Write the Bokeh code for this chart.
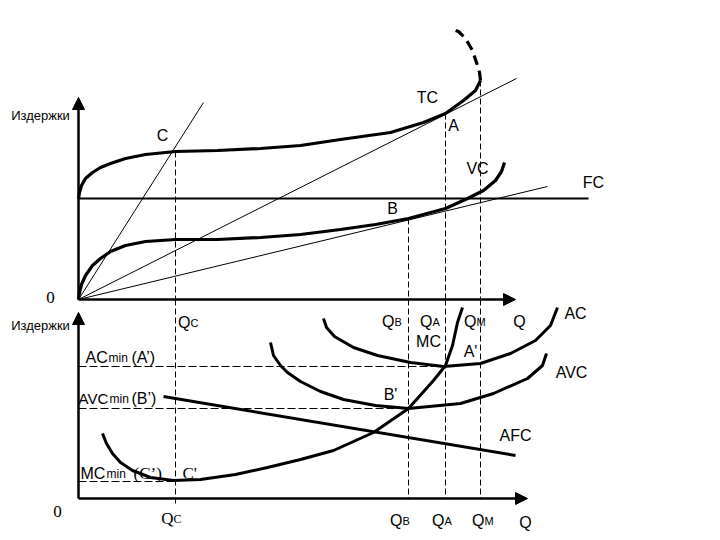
from bokeh.plotting import figure
from bokeh.models import Range1d, Arrow, NormalHead
from bokeh.embed import file_html
from bokeh.resources import INLINE
from bokeh.core.properties import value

# ---------------- data (Q = output, C = cost) ----------------
# upper panel: total costs
tc_q = [0, 0.1, 0.3, 0.7, 1.4, 2.2, 3.2, 4.7, 6.7, 9.7, 13.9, 18.2, 22.2, 26.2, 31.2, 34.5, 36.7, 38.5, 39.7, 40.2]
tc_c = [10.1, 10.7, 11.4, 12.1, 12.7, 13.2, 13.6, 14.1, 14.5, 14.8, 14.9, 15.1, 15.4, 16.0, 16.7, 17.7, 18.6, 19.9, 20.9, 21.9]
tc_ext_q = [40.2, 40.1, 39.8, 39.4, 38.7, 38.0, 37.2]
tc_ext_c = [21.9, 22.7, 23.7, 24.9, 26.1, 26.8, 27.1]
vc_q = [0, 0.1, 0.3, 0.7, 1.4, 2.2, 3.2, 4.7, 6.7, 9.7, 13.9, 18.2, 22.2, 26.2, 29.7, 33.0, 36.7, 38.9, 40.5, 41.7, 42.3, 42.6]
vc_c = [0, 0.7, 1.5, 2.4, 3.4, 4.1, 4.8, 5.4, 5.8, 6.0, 6.0, 6.2, 6.5, 7.0, 7.5, 8.1, 9.1, 10.1, 10.9, 11.9, 12.8, 13.7]
fc_q = [0, 51.0]
fc_c = [10.1, 10.1]
# rays from the origin (end points)
ray_q = [12.5, 43.8, 46.9]
ray_c = [19.7, 22.1, 11.3]
# characteristic points C, B, A, M on the upper panel
pt_names = ["C", "B", "A", "M"]
pt_q = [9.7, 33.0, 36.7, 40.2]
pt_c = [14.8, 8.1, 18.6, 21.9]

# lower panel: unit costs
mc_q = [2.4, 2.8, 3.4, 4.2, 5.4, 7.2, 9.5, 12.2, 15.7, 18.9, 22.2, 25.5, 29.5, 33.0, 35.5, 36.7, 37.4, 37.9, 38.4]
mc_c = [6.5, 5.5, 4.5, 3.6, 2.8, 2.1, 1.8, 1.9, 2.4, 3.1, 3.9, 4.8, 6.6, 9.0, 11.8, 13.3, 15.3, 17.6, 19.1]
avc_q = [19.2, 19.5, 20.2, 20.9, 22.2, 24.2, 26.5, 29.7, 33.0, 38.2, 41.5, 44.9, 46.4, 46.8]
avc_c = [15.6, 14.3, 13.3, 12.6, 11.7, 10.7, 9.9, 9.3, 9.0, 9.5, 10.5, 12.0, 13.3, 14.5]
ac_q = [24.5, 24.8, 25.6, 27.5, 29.9, 33.2, 36.5, 40.2, 43.2, 45.7, 47.2, 47.9]
ac_c = [18.0, 17.1, 16.2, 15.1, 14.3, 13.6, 13.2, 13.5, 14.5, 15.8, 17.3, 19.1]
afc_q = [8.5, 43.7]
afc_c = [10.2, 4.3]
# minima
min_q = [36.6, 33.0, 9.7]     # A', B', C'
min_c = [13.2, 9.0, 1.7]      # ACmin, AVCmin, MCmin

# axis extents
top_axis_q, top_axis_c = 43.7, 20.2
bot_axis_q, bot_axis_c = 44.9, 18.6
bot_panel_top = 19.9

BLACK = "black"
SANS = value("Liberation Sans")
SERIF = value("Liberation Serif")

p = figure(width=720, height=540, x_range=Range1d(-7.8, 64.2), y_range=Range1d(-24.1, 29.9),
           output_backend="svg", toolbar_location=None, x_axis_type=None, y_axis_type=None,
           min_border=0, outline_line_color=None, background_fill_color="white")
p.extra_y_ranges = {"bot": Range1d(-4.2, 49.8)}

# ---------- axes with arrows ----------
for rn, ax_q, ax_c in [("default", top_axis_q, top_axis_c), ("bot", bot_axis_q, bot_axis_c)]:
    p.add_layout(Arrow(end=NormalHead(size=12, fill_color=BLACK, line_color=BLACK, line_width=1),
                       x_start=0, y_start=0, x_end=0, y_end=ax_c, line_width=2.5,
                       line_color=BLACK, y_range_name=rn))
    p.add_layout(Arrow(end=NormalHead(size=12, fill_color=BLACK, line_color=BLACK, line_width=1),
                       x_start=0, y_start=0, x_end=ax_q, y_end=0, line_width=2.5,
                       line_color=BLACK, y_range_name=rn))

# ---------- upper panel ----------
# rays
p.segment(x0=[0] * len(ray_q), y0=[0] * len(ray_q), x1=ray_q, y1=ray_c, line_color=BLACK, line_width=1)
# FC
p.line(fc_q, fc_c, line_color=BLACK, line_width=2)
# TC, VC
p.line(tc_q, tc_c, line_color=BLACK, line_width=3.2)
p.line(tc_ext_q, tc_ext_c, line_color=BLACK, line_width=3.2, line_dash="10 6")
p.line(vc_q, vc_c, line_color=BLACK, line_width=3.2)
# vertical dashed guides in upper panel
p.segment(x0=pt_q, y0=pt_c, x1=pt_q, y1=[0] * 4, line_color=BLACK, line_width=1, line_dash="6 3")
# continuation in lower panel
p.segment(x0=pt_q, y0=[bot_panel_top] * 4, x1=pt_q, y1=[-0.6, 0, 0, 0],
          line_color=BLACK, line_width=1, line_dash="6 3", y_range_name="bot")
# horizontal dashed guides in lower panel
p.segment(x0=[0] * 3, y0=min_c, x1=min_q, y1=min_c, line_color=BLACK, line_width=1,
          line_dash="8 3", y_range_name="bot")

# ---------- lower panel ----------
p.line(afc_q, afc_c, line_color=BLACK, line_width=3, y_range_name="bot")
p.line(mc_q, mc_c, line_color=BLACK, line_width=3, y_range_name="bot")
p.line(avc_q, avc_c, line_color=BLACK, line_width=3, y_range_name="bot")
p.line(ac_q, ac_c, line_color=BLACK, line_width=3, y_range_name="bot")

# ---------- labels ----------
def label(xs, ys, texts, size, font=SANS, align="center", baseline="middle", rn="default"):
    p.text(x=xs, y=ys, text=texts, text_font=font, text_font_size=size, text_color=BLACK,
           text_align=align, text_baseline=baseline, y_range_name=rn)

# upper panel
label([-3.8], [18.4], ["Издержки"], "13px")
label([8.4, 34.9, 37.5, 39.9, 51.5, 31.4], [16.4, 20.2, 17.4, 13.1, 11.7, 9.1],
      ["C", "TC", "A", "VC", "FC", "B"], "16px")
label([-2.8], [0.2], ["0"], "17px", font=SERIF)
# Q labels under the upper axis
q_sub = ["C", "B", "A", "M"]
label([11.2, 31.6, 35.4, 39.8], [-2.3, -2.2, -2.2, -2.2], ["Q"] * 4, "16px", align="right", baseline="alphabetic")
label([11.2, 31.6, 35.4, 39.8], [-2.3, -2.2, -2.2, -2.2], q_sub, "11px", align="left", baseline="alphabetic")
label([44.1], [-2.2], ["Q"], "16px", baseline="alphabetic")

# lower panel
label([-3.8], [17.3], ["Издержки"], "13px", rn="bot")
label([0.7], [14.1], ["AC"], "16px", align="left", baseline="alphabetic", rn="bot")
label([0.0], [10.0], ["AVC"], "15px", align="left", baseline="alphabetic", rn="bot")
label([0.2], [2.5], ["MC"], "16px", align="left", baseline="alphabetic", rn="bot")
label([3.0, 3.1, 2.8], [14.1, 10.0, 2.5], ["min", "min", "min"], "12px", align="left", baseline="alphabetic", rn="bot")
label([5.3, 5.3], [14.1, 10.0], ["(A’)", "(B’)"], "16px", align="left", baseline="alphabetic", rn="bot")
label([5.5, 10.4], [2.5, 2.5], ["(C’)", "C'"], "17px", font=SERIF, align="left", baseline="alphabetic", rn="bot")
label([35.0, 39.2, 49.7, 49.3, 31.2, 43.7], [15.7, 14.7, 18.5, 12.6, 10.4, 6.3],
      ["MC", "A'", "AC", "AVC", "B'", "AFC"], "16px", rn="bot")
label([32.4, 36.6, 40.6], [-2.2] * 3, ["Q"] * 3, "16px", align="right", baseline="alphabetic", rn="bot")
label([32.4, 36.6, 40.6], [-2.2] * 3, ["B", "A", "M"], "11px", align="left", baseline="alphabetic", rn="bot")
label([44.7], [-2.4], ["Q"], "16px", baseline="alphabetic", rn="bot")
label([9.5], [-2.0], ["Q"], "17px", font=SERIF, align="right", baseline="alphabetic", rn="bot")
label([9.5], [-2.0], ["C"], "12px", font=SERIF, align="left", baseline="alphabetic", rn="bot")
label([-2.1], [-1.3], ["0"], "17px", font=SERIF, rn="bot")

open("out.html", "w").write(file_html(p, INLINE))
